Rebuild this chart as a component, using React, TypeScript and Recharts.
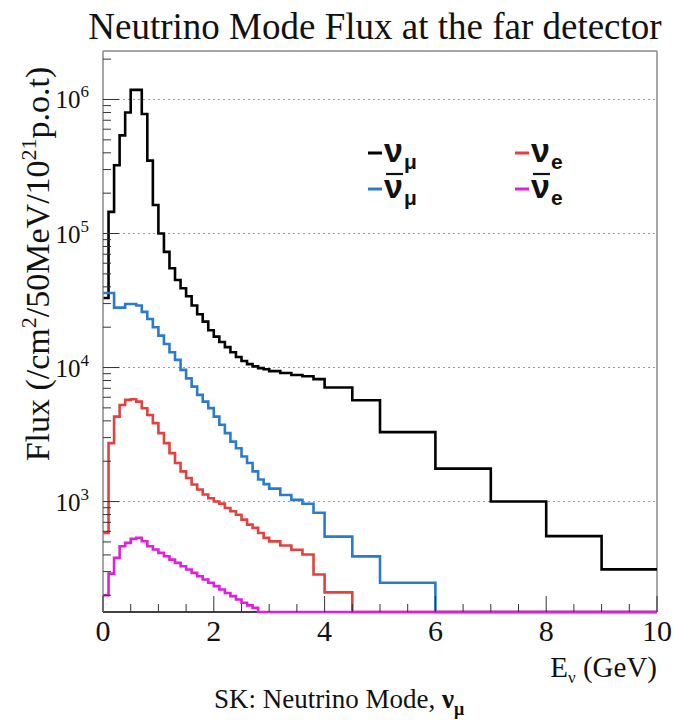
import React from 'react';
import { LineChart, Line, XAxis, YAxis, ReferenceLine, Legend } from 'recharts';

// bin edges in GeV (0.1 GeV up to 3, then wider bins)
const binEdges = [
  0, 0.1, 0.2, 0.3, 0.4, 0.5, 0.6, 0.7, 0.8, 0.9, 1.0, 1.1, 1.2, 1.3, 1.4, 1.5, 1.6, 1.7, 1.8, 1.9,
  2.0, 2.1, 2.2, 2.3, 2.4, 2.5, 2.6, 2.7, 2.8, 2.9, 3.0, 3.2, 3.4, 3.6, 3.8, 4.0, 4.5, 5, 6, 7, 8, 9, 10,
];

// flux per bin
const numuFlux = [
  33000, 145000, 323000, 540000, 800000, 1180000, 1180000, 780000, 350000, 163000,
  100000, 73000, 55000, 45000, 39000, 34000, 29000, 25000, 22000, 19000,
  17000, 15500, 14200, 13000, 12000, 11200, 10600, 10200, 9900, 9700,
  9400, 9100, 8800, 8600, 8200, 7100, 5700, 3300, 1760, 1000, 552, 312,
];
const numubarFlux = [
  36000, 36000, 28000, 28000, 29800, 29800, 29000, 26000, 23000, 20000,
  17300, 15000, 13000, 11400, 9600, 8300, 7200, 6250, 5570, 4980,
  4300, 3740, 3240, 2800, 2500, 2170, 1940, 1680, 1460, 1350,
  1250, 1120, 1030, 964, 826, 548, 390, 248, 0, 0, 0, 0,
];
const nueFlux = [
  583, 2730, 4300, 5260, 5740, 5800, 5570, 4970, 4430, 3850,
  3240, 2730, 2300, 1940, 1680, 1500, 1340, 1230, 1130, 1060,
  1000, 966, 896, 846, 798, 733, 673, 636, 583, 536,
  505, 470, 437, 403, 286, 210, 0, 0, 0, 0, 0, 0,
];
const nuebarFlux = [
  200, 290, 380, 464, 492, 527, 536, 506, 464, 439,
  414, 391, 369, 349, 329, 311, 294, 277, 262, 248,
  234, 221, 208, 197, 186, 176, 168, 161, 0, 0,
  0, 0, 0, 0, 0, 0, 0, 0, 0, 0, 0, 0,
];

const xTicks = [0, 0.5, 1, 1.5, 2, 2.5, 3, 3.5, 4, 4.5, 5, 5.5, 6, 6.5, 7, 7.5, 8, 8.5, 9, 9.5, 10];
const xLabels = [0, 2, 4, 6, 8, 10];
const yMajorTicks = [1000, 10000, 100000, 1000000];
const yMinorTicks = [
  200, 300, 400, 500, 600, 700, 800, 900,
  2000, 3000, 4000, 5000, 6000, 7000, 8000, 9000,
  20000, 30000, 40000, 50000, 60000, 70000, 80000, 90000,
  200000, 300000, 400000, 500000, 600000, 700000, 800000, 900000,
  2000000,
];

const Y_MIN = 150;
const Y_MAX = 2300000;

const series = [
  { key: 'numu', color: '#000000', values: numuFlux, sub: 'μ', bar: false, col: 0 },
  { key: 'numubar', color: '#2b7bcc', values: numubarFlux, sub: 'μ', bar: true, col: 0 },
  { key: 'nue', color: '#e2413f', values: nueFlux, sub: 'e', bar: false, col: 1 },
  { key: 'nuebar', color: '#e01ee0', values: nuebarFlux, sub: 'e', bar: true, col: 1 },
];

// empty bins sit on the bottom of the frame, like ROOT draws them
const chartData = binEdges.map((x, i) => {
  const row: Record<string, number> = { x };
  series.forEach((s) => {
    const v = s.values[Math.min(i, s.values.length - 1)];
    row[s.key] = v > 0 ? v : Y_MIN;
  });
  return row;
});

const SERIF = '"Liberation Serif", "DejaVu Serif", serif';
const SANS = '"Liberation Sans", Arial, sans-serif';

function YTick({ x, y, payload }: any) {
  const v = payload.value;
  const major = yMajorTicks.includes(v);
  return (
    <g>
      <line x1={x} x2={x + (major ? 16 : 8)} y1={y} y2={y} stroke="#333" strokeWidth={1} />
      {major && (
        <text x={x - 14} y={y + 9} textAnchor="end" fontFamily={SERIF} fontSize={25} fill="#111">
          10<tspan dy={-11} fontSize={17}>{Math.round(Math.log10(v))}</tspan>
        </text>
      )}
    </g>
  );
}

function XTick({ x, y, payload }: any) {
  const v = payload.value;
  const major = xLabels.includes(v);
  return (
    <g>
      <line x1={x} x2={x} y1={y} y2={y - (major ? 16 : 8)} stroke="#333" strokeWidth={1} />
      {major && (
        <text x={x} y={y + 29} textAnchor="middle" fontFamily={SERIF} fontSize={30} fill="#111">
          {v}
        </text>
      )}
    </g>
  );
}

function FluxLegend() {
  return (
    <svg width={290} height={84}>
      {series.map((s) => {
        const x0 = s.col * 147;
        const base = s.bar ? 70 : 34;
        return (
          <g key={s.key} fontFamily={SANS} fontWeight={700} fill="#111">
            <line x1={x0 + 2} x2={x0 + 16} y1={base - 9} y2={base - 9} stroke={s.color} strokeWidth={3} />
            <text x={x0 + 18} y={base} fontSize={34}>ν</text>
            {s.bar && <line x1={x0 + 20} x2={x0 + 37} y1={base - 24} y2={base - 24} stroke="#111" strokeWidth={2.2} />}
            <text x={x0 + 38} y={base + 7} fontSize={21}>{s.sub}</text>
          </g>
        );
      })}
    </svg>
  );
}

export default function App() {
  return (
    <div style={{ position: 'absolute', left: 0, top: 0, width: 673, height: 720, background: '#fff' }}>
      <LineChart width={673} height={720} data={chartData} margin={{ top: 51, right: 16, bottom: 0, left: 0 }}>
        <XAxis
          dataKey="x"
          type="number"
          domain={[0, 10]}
          ticks={xTicks}
          interval={0}
          height={108}
          tickSize={0}
          tickMargin={0}
          tickLine={false}
          tick={<XTick />}
          axisLine={false}
        />
        <YAxis
          type="number"
          scale="log"
          domain={[Y_MIN, Y_MAX]}
          ticks={[...yMinorTicks, ...yMajorTicks].sort((a, b) => a - b)}
          interval={0}
          width={103}
          tickSize={0}
          tickMargin={0}
          tickLine={false}
          tick={<YTick />}
          axisLine={{ stroke: '#888', strokeWidth: 1.5 }}
        />
        {yMajorTicks.map((v) => (
          <ReferenceLine key={v} y={v} stroke="#999" strokeDasharray="2 3" strokeWidth={1} />
        ))}
        <ReferenceLine y={Y_MAX} stroke="#888" strokeWidth={1.5} />
        <ReferenceLine x={10} stroke="#888" strokeWidth={1.5} />
        <ReferenceLine y={Y_MIN} stroke="#000" strokeWidth={1.5} />
        {series.map((s) => (
          <Line
            key={s.key}
            dataKey={s.key}
            type="stepAfter"
            stroke={s.color}
            strokeWidth={2.6}
            dot={false}
            activeDot={false}
            isAnimationActive={false}
          />
        ))}
        <Legend
          layout="horizontal"
          verticalAlign="middle"
          align="center"
          content={() => <FluxLegend />}
          wrapperStyle={{ position: 'absolute', left: 366, top: 128, width: 290, height: 84 }}
        />
      </LineChart>
      <svg
        width={673}
        height={720}
        style={{ position: 'absolute', left: 0, top: 0, pointerEvents: 'none' }}
        fontFamily={SERIF}
        fill="#111"
      >
        <text x={375} y={39} textAnchor="middle" fontSize={37}>
          Neutrino Mode Flux at the far detector
        </text>
        <text transform="translate(49,264) rotate(-90)" textAnchor="middle" fontSize={34}>
          Flux (/cm<tspan dy={-13} fontSize={22}>2</tspan>
          <tspan dy={13}>/50MeV/10</tspan>
          <tspan dy={-13} fontSize={22}>21</tspan>
          <tspan dy={13}>p.o.t)</tspan>
        </text>
        <text x={657} y={677} textAnchor="end" fontSize={29}>
          E<tspan dy={6} fontSize={17}>ν</tspan>
          <tspan dy={-6}> (GeV)</tspan>
        </text>
        <text x={214} y={708} fontSize={27}>
          SK: Neutrino Mode, <tspan fontWeight={700}>ν</tspan>
          <tspan dy={7} fontSize={18} fontWeight={700}>μ</tspan>
        </text>
      </svg>
    </div>
  );
}
